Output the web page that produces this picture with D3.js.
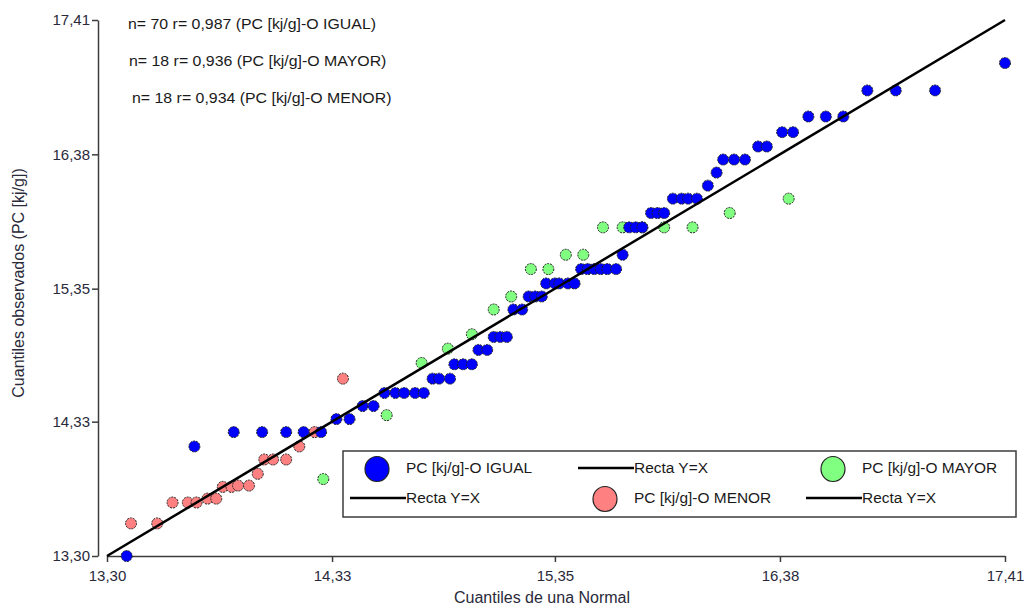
<!DOCTYPE html>
<html>
<head>
<meta charset="utf-8">
<script src="https://cdn.jsdelivr.net/npm/d3@7"></script>
<style>
body{margin:0;background:#fff;}
text{font-family:Arial,"Liberation Sans",sans-serif;}
</style>
</head>
<body>
<svg id="chart" width="1025" height="609"></svg>
<script>

// ---------------------------------------------- DATA ---------------------------------------------------

// axis ticks (same for both axes)
var tickValues = [13.30, 14.33, 15.35, 16.38, 17.41];
var tickLabels = ["13,30", "14,33", "15,35", "16,38", "17,41"];

// PC [kj/g]-O IGUAL  (x = cuantil normal, y = cuantil observado)
var igualX = [13.39,13.70,13.88,14.01,14.12,14.20,14.28,14.35,14.41,14.47,
              14.52,14.57,14.62,14.66,14.71,14.75,14.79,14.82,14.87,14.89,
              14.93,14.97,15.00,15.04,15.07,15.10,15.13,15.16,15.20,15.23,
              15.26,15.29,15.31,15.35,15.37,15.41,15.44,15.47,15.50,15.53,
              15.56,15.59,15.63,15.66,15.69,15.72,15.75,15.79,15.82,15.85,
              15.89,15.93,15.96,16.00,16.05,16.09,16.12,16.17,16.22,16.28,
              16.32,16.39,16.44,16.51,16.59,16.67,16.78,16.91,17.09,17.41];
var igualY = [13.30,14.14,14.25,14.25,14.25,14.25,14.25,14.35,14.35,14.45,
              14.45,14.55,14.55,14.55,14.55,14.55,14.66,14.66,14.66,14.77,
              14.77,14.77,14.88,14.88,14.98,14.98,14.98,15.19,15.19,15.29,
              15.29,15.29,15.39,15.39,15.39,15.39,15.39,15.50,15.50,15.50,
              15.50,15.50,15.50,15.61,15.82,15.82,15.82,15.93,15.93,15.93,
              16.04,16.04,16.04,16.04,16.14,16.24,16.34,16.34,16.34,16.44,
              16.44,16.55,16.55,16.67,16.67,16.67,16.87,16.87,16.87,17.08];

// PC [kj/g]-O MAYOR
var mayorX = [14.29,14.58,14.74,14.86,14.97,15.07,15.15,15.24,15.32,15.40,
              15.48,15.57,15.66,15.75,15.85,15.98,16.15,16.42];
var mayorY = [13.89,14.38,14.78,14.89,15.00,15.19,15.29,15.50,15.50,15.61,
              15.61,15.82,15.82,15.82,15.82,15.82,15.93,16.04];

// PC [kj/g]-O MENOR
var menorX = [13.41,13.53,13.60,13.67,13.71,13.76,13.80,13.83,13.87,13.90,
              13.95,13.99,14.02,14.06,14.12,14.18,14.25,14.38];
var menorY = [13.55,13.55,13.71,13.71,13.71,13.74,13.74,13.83,13.83,13.84,
              13.84,13.93,14.04,14.04,14.04,14.14,14.25,14.66];

var seriesNames = ["PC [kj/g]-O IGUAL", "PC [kj/g]-O MAYOR", "PC [kj/g]-O MENOR"];
var seriesN = [70, 18, 18];
var seriesR = ["0,987", "0,936", "0,934"];

var COLOR_IGUAL = "#0000ff";
var COLOR_MAYOR = "#80ff80";
var COLOR_MENOR = "#ff8080";

// ---------------------------------------------- LAYOUT ---------------------------------------------------

var svg = d3.select("#chart");
var Y_AXIS_X = 98;

var x = d3.scaleLinear().domain([13.30, 17.41]).range([107, 1005]);
var y = d3.scaleLinear().domain([13.30, 17.41]).range([556, 20]);

// axes
var gx = svg.append("g")
	.attr("transform", "translate(0," + y(13.30) + ")")
	.call(d3.axisBottom(x).tickValues(tickValues).tickFormat(function(d, i){return tickLabels[i];}).tickSize(6).tickSizeOuter(0));

var gy = svg.append("g")
	.attr("transform", "translate(" + Y_AXIS_X + ",0)")
	.call(d3.axisLeft(y).tickValues(tickValues).tickFormat(function(d, i){return tickLabels[i];}).tickSize(6).tickSizeOuter(0));

[gx, gy].forEach(function(g){
	g.select(".domain").attr("stroke", "#3c3c3c").attr("stroke-width", 1.5);
	g.selectAll(".tick line").attr("stroke", "#3c3c3c").attr("stroke-width", 1.5);
	g.selectAll(".tick text")
		.attr("fill", "#2a2a3a")
		.style("font-size", "15px")
		.style("font-family", "Arial, 'Liberation Sans', sans-serif");
});
gx.selectAll(".tick text").attr("dy", "1.05em");
gy.selectAll(".tick text").attr("x", -8);

// axis titles
svg.append("text")
	.attr("x", 542).attr("y", 603)
	.attr("text-anchor", "middle")
	.style("font-size", "16px").attr("fill", "#2a2a3a")
	.text("Cuantiles de una Normal");

svg.append("text")
	.attr("transform", "translate(24," + 283 + ") rotate(-90)")
	.attr("text-anchor", "middle")
	.style("font-size", "16px").attr("fill", "#2a2a3a")
	.text("Cuantiles observados (PC [kj/g])");

// ---------------------------------------------- POINTS ---------------------------------------------------

function drawSeries(xs, ys, color, id){
	svg.append("g").attr("id", id)
		.selectAll("circle")
		.data(d3.range(xs.length))
		.enter()
		.append("circle")
			.attr("cx", function(i){return x(xs[i]);})
			.attr("cy", function(i){return y(ys[i]);})
			.attr("r", 5.5)
			.style("fill", color)
			.style("stroke", "#222")
			.style("stroke-width", 1)
			.style("stroke-dasharray", "2,1");
}

drawSeries(menorX, menorY, COLOR_MENOR, "menor");
drawSeries(mayorX, mayorY, COLOR_MAYOR, "mayor");
drawSeries(igualX, igualY, COLOR_IGUAL, "igual");

// recta Y=X
svg.append("line")
	.attr("x1", x(13.30)).attr("y1", y(13.30))
	.attr("x2", x(17.41)).attr("y2", y(17.41))
	.style("stroke", "#000")
	.style("stroke-width", 2.5);

// ---------------------------------------------- ANNOTATIONS ---------------------------------------------------

// the original text is slightly stretched horizontally
var annX = [128, 129, 132];
var annY = [24, 61, 98];
seriesNames.forEach(function(name, i){
	svg.append("text")
		.attr("transform", "translate(" + annX[i] + "," + annY[i] + ") scale(1.06,1)")
		.attr("dy", "0.35em")
		.style("font-size", "15px").attr("fill", "#1a1a1a")
		.text("n= " + seriesN[i] + " r= " + seriesR[i] + " (" + name + ")");
});

// ---------------------------------------------- LEGEND ---------------------------------------------------

var legendItems = [
	{type:"point", label:seriesNames[0], color:COLOR_IGUAL},
	{type:"line",  label:"Recta Y=X"},
	{type:"point", label:seriesNames[1], color:COLOR_MAYOR},
	{type:"line",  label:"Recta Y=X"},
	{type:"point", label:seriesNames[2], color:COLOR_MENOR},
	{type:"line",  label:"Recta Y=X"}
];

var gLegend = svg.append("g").attr("id", "legend");
gLegend.append("rect")
	.attr("x", 343).attr("y", 451)
	.attr("width", 673).attr("height", 66)
	.style("fill", "white")
	.style("stroke", "#3c3c3c")
	.style("stroke-width", 1.5);

var colText = [406, 634, 862];
var rowY = [468, 498];

legendItems.forEach(function(d, i){
	var row = Math.floor(i / 3), col = i % 3;
	var tx = colText[col], ty = rowY[row];
	if (d.type == "point"){
		gLegend.append("ellipse")
			.attr("cx", tx - 29).attr("cy", ty + 1)
			.attr("rx", 12).attr("ry", 12.5)
			.style("fill", d.color)
			.style("stroke", "#222")
			.style("stroke-width", 1.2);
	} else {
		gLegend.append("line")
			.attr("x1", tx - 56).attr("x2", tx)
			.attr("y1", ty).attr("y2", ty)
			.style("stroke", "#000").style("stroke-width", 2.5);
	}
	gLegend.append("text")
		.attr("transform", "translate(" + tx + "," + ty + ") scale(1.03,1)")
		.attr("dy", "0.35em")
		.style("font-size", "15px").attr("fill", "#1a1a1a")
		.text(d.label);
});

</script>
</body>
</html>
